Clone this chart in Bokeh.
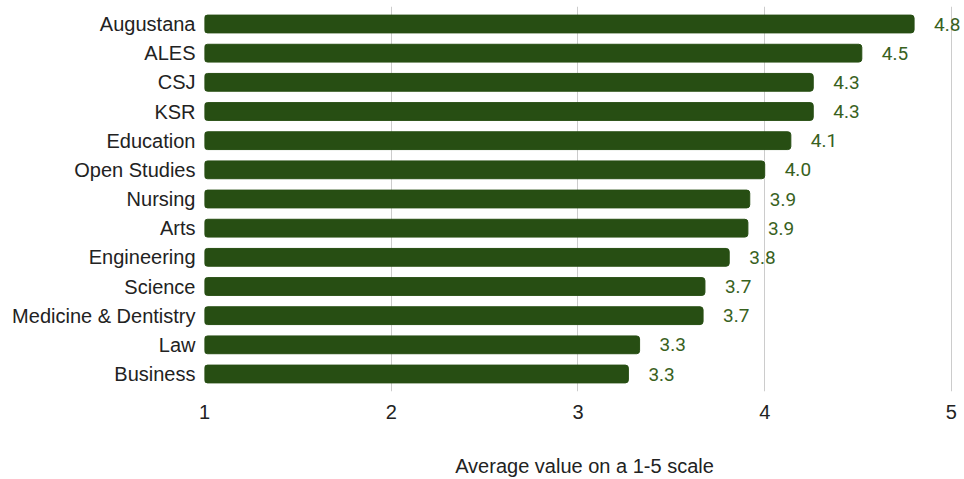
from bokeh.plotting import figure
from bokeh.models import ColumnDataSource, FactorRange, FixedTicker, LabelSet
from bokeh.core.properties import value
from bokeh.embed import file_html
from bokeh.resources import INLINE

faculties = ["Augustana", "ALES", "CSJ", "KSR", "Education", "Open Studies", "Nursing",
             "Arts", "Engineering", "Science", "Medicine & Dentistry", "Law", "Business"]
values = [4.80, 4.52, 4.26, 4.26, 4.14, 4.00, 3.92, 3.91, 3.81, 3.68, 3.67, 3.33, 3.27]
value_labels = ["4.8", "4.5", "4.3", "4.3", "4.1", "4.0", "3.9", "3.9", "3.8", "3.7", "3.7", "3.3", "3.3"]
x_ticks = [1, 2, 3, 4, 5]
x_title = "Average value on a 1-5 scale"

BAR = "#274e13"
LABEL = "#38611d"
FS = "20px"

src = ColumnDataSource(dict(fac=faculties, val=values, lab=value_labels,
                            base=[1] * len(values)))

yr = FactorRange(factors=list(reversed(faculties)), range_padding=0.1,
                 range_padding_units="absolute")

# x range extends slightly past 5 so the last value label is not clipped
p = figure(width=964, height=479, y_range=yr, x_range=(1, 5.07),
           output_backend="svg", toolbar_location=None,
           min_border_left=204, min_border_right=0, min_border_top=6, min_border_bottom=0)
p.outline_line_color = None
p.background_fill_color = "white"
p.border_fill_color = "white"

p.hbar(y="fac", left="base", right="val", height=0.61, source=src,
       fill_color=BAR, line_color=BAR, border_radius=3)

labels = LabelSet(x="val", y="fac", text="lab", source=src, x_offset=20,
                  text_baseline="middle", text_align="left", text_font_size="19px",
                  text_color=LABEL, text_font=value("Roboto"))
p.add_layout(labels)

p.xaxis.ticker = FixedTicker(ticks=x_ticks)
p.xaxis.axis_label = x_title
p.xaxis.axis_label_text_font_style = "normal"
p.xaxis.axis_label_text_font = "Liberation Sans"
p.xaxis.axis_label_text_font_size = FS
p.xaxis.axis_label_text_color = "#222222"
p.xaxis.axis_label_standoff = 33
p.xaxis.major_label_text_font = "Liberation Sans"
p.xaxis.major_label_text_font_size = FS
p.xaxis.major_label_text_color = "#222222"
p.xaxis.major_label_standoff = 13

for ax in (p.xaxis, p.yaxis):
    ax.axis_line_color = None
    ax.major_tick_line_color = None
    ax.minor_tick_line_color = None
    ax.major_tick_out = 0
    ax.major_tick_in = 0

p.yaxis.major_label_text_font = "Liberation Sans"
p.yaxis.major_label_text_font_size = FS
p.yaxis.major_label_text_color = "#222222"
p.yaxis.major_label_standoff = 9

p.ygrid.grid_line_color = None
p.xgrid.grid_line_color = "#cccccc"
p.xgrid.grid_line_width = 1

open("out.html", "w").write(file_html(p, INLINE))
